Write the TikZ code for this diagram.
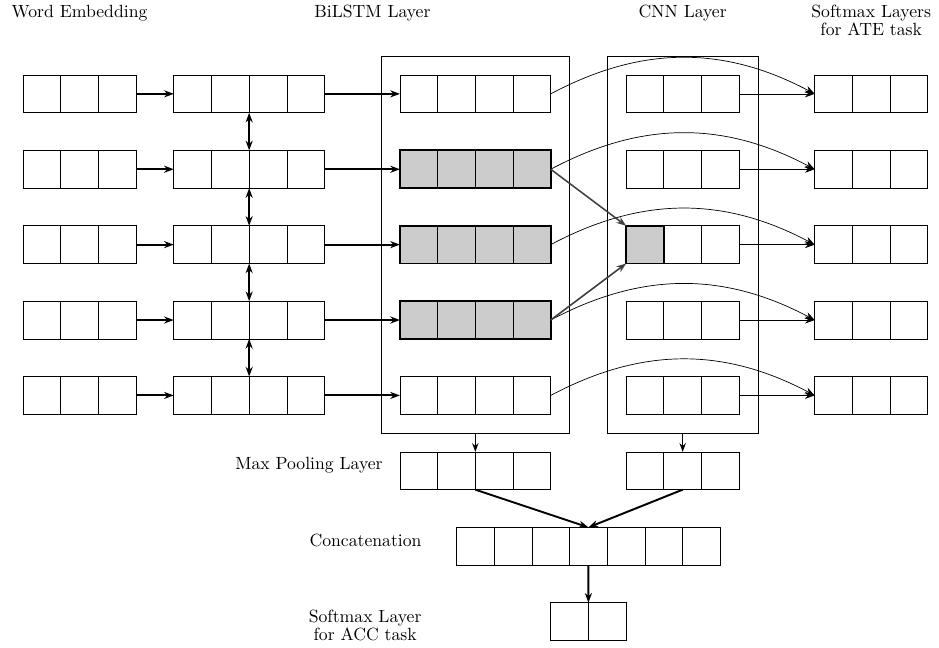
\documentclass[tikz,border=0pt]{standalone}
\usetikzlibrary{arrows.meta,fit,positioning}

\tikzset{
  cell/.style={draw, minimum size=0.75cm, inner sep=0pt, outer sep=0pt},
  shaded/.style={cell, fill=black!20},
  plainrow/.style={inner sep=0pt, outer sep=0pt},
  hotrow/.style={plainrow, draw, line width=1.1pt},
  layerbox/.style={draw, inner sep=0.375cm},
  lbl/.style={inner sep=0pt, align=center},
  fwd/.style={-{Stealth[length=5.5pt,width=4pt]}, line width=1.1pt},
  both/.style={{Stealth[length=5.5pt,width=4pt]}-{Stealth[length=5.5pt,width=4pt]}, line width=1.1pt},
  slim/.style={-{Stealth[length=5.5pt,width=4pt]}},
  mid/.style={-{Stealth[length=5pt,width=3.6pt]}, line width=0.8pt},
  hint/.style={-{Stealth[length=5.5pt,width=4pt]}, line width=0.9pt, black!75}
}

% name, cells, left x, y, cell style, row style
\newcommand{\cellrow}[6]{
  \foreach \i in {1,...,#2}
    \node[#5] (#1-\i) at (#3+\i-0.5,#4) {};
  \node[#6, fit=(#1-1)(#1-#2)] (#1) {};
}

\begin{document}
\begin{tikzpicture}[x=0.75cm,y=0.75cm]
  \useasboundingbox (-0.61,2.49) rectangle (24.30,-14.69);
  \foreach \r/\y in {1/0,2/-2,3/-4,4/-6,5/-8} {
    \cellrow{emb\r}{3}{0}{\y}{cell}{plainrow}
    \cellrow{in\r}{4}{4}{\y}{cell}{plainrow}
    \cellrow{cnn\r}{3}{16}{\y}{cell}{plainrow}
    \cellrow{ate\r}{3}{21}{\y}{cell}{plainrow}
  }
  \cellrow{lstm1}{4}{10}{0}{cell}{plainrow}
  \cellrow{lstm2}{4}{10}{-2}{shaded}{hotrow}
  \cellrow{lstm3}{4}{10}{-4}{shaded}{hotrow}
  \cellrow{lstm4}{4}{10}{-6}{shaded}{hotrow}
  \cellrow{lstm5}{4}{10}{-8}{cell}{plainrow}
  \draw[line width=1.1pt, fill=black!20] (cnn3-1.north west) rectangle (cnn3-1.south east);
  \node[layerbox, fit=(lstm1)(lstm5)] (lstmbox) {};
  \node[layerbox, fit=(cnn1)(cnn5)] (cnnbox) {};
  \cellrow{pool1}{4}{10}{-10}{cell}{plainrow}
  \cellrow{pool2}{3}{16}{-10}{cell}{plainrow}
  \cellrow{cat}{7}{11.5}{-12}{cell}{plainrow}
  \cellrow{acc}{2}{14}{-14}{cell}{plainrow}

  \foreach \r in {1,...,5} {
    \draw[fwd] (emb\r) -- (in\r);
    \draw[fwd] (in\r) -- (lstm\r);
    \draw[slim] (lstm\r.east) to[out=28,in=152] (ate\r.west);
    \draw[slim] (cnn\r) -- (ate\r);
  }
  \foreach \r/\s in {1/2,2/3,3/4,4/5}
    \draw[both] (in\r-2.south east) -- (in\s-2.north east);
  \draw[hint] (lstm2.east) -- (cnn3-1.north west);
  \draw[hint] (lstm4.east) -- (cnn3-1.south west);

  \draw[mid] (lstmbox.south) -- (pool1.north);
  \draw[mid] (cnnbox.south) -- (pool2.north);
  \draw[fwd] (pool1.south) -- (cat.north);
  \draw[fwd] (pool2.south) -- (cat.north);
  \draw[fwd] (cat.south) -- (acc.north);

  \node[lbl, anchor=north] (embtitle) at (1.5,2.36) {Word Embedding};
  \node[lbl, anchor=north] (lstmtitle) at (9.27,2.36) {BiLSTM Layer};
  \node[lbl, anchor=north] (cnntitle) at (17.5,2.36) {CNN Layer};
  \node[lbl, anchor=north] (atetitle) at (22.5,2.36) {Softmax Layers\\[-1.8pt]for ATE task};
  \node[lbl, anchor=east] (pooltitle) at (9.55,-9.85) {Max Pooling Layer};
  \node[lbl, anchor=east] (cattitle) at (10.58,-11.85) {Concatenation};
  \node[lbl, anchor=east] (acctitle) at (10.58,-14.1) {Softmax Layer\\[-1.8pt]for ACC task};
\end{tikzpicture}
\end{document}
